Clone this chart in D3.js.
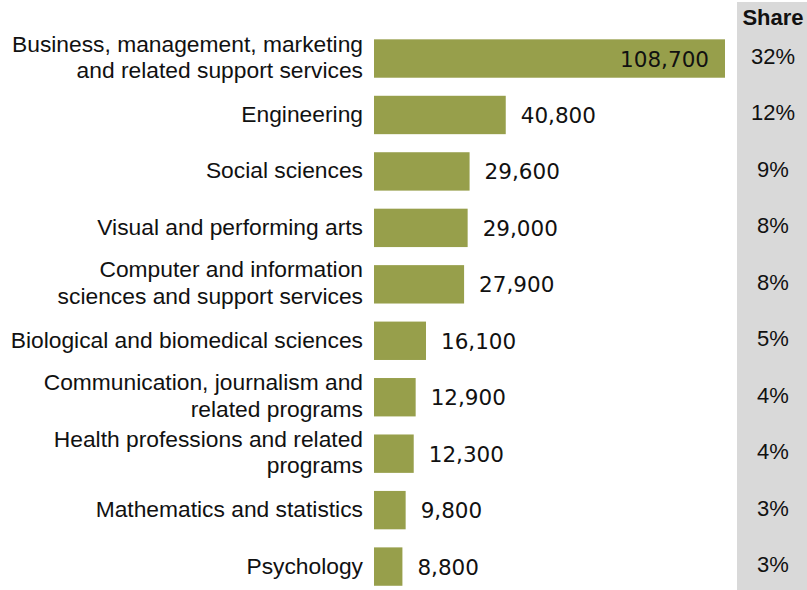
<!DOCTYPE html>
<html>
<head>
<meta charset="utf-8">
<script src="https://cdn.jsdelivr.net/npm/d3@7"></script>
<style>
  html, body { margin: 0; padding: 0; background: #fff; }
  svg { display: block; }
  text { font-family: "Liberation Sans", Arial, sans-serif; fill: #111; }
  text.val { font-family: "DejaVu Sans", sans-serif; }
</style>
</head>
<body>
<svg id="chart" width="807" height="590"></svg>
<script>
const categories = [
  ["Business, management, marketing", "and related support services"],
  ["Engineering"],
  ["Social sciences"],
  ["Visual and performing arts"],
  ["Computer and information", "sciences and support services"],
  ["Biological and biomedical sciences"],
  ["Communication, journalism and", "related programs"],
  ["Health professions and related", "programs"],
  ["Mathematics and statistics"],
  ["Psychology"]
];
const values = [108700, 40800, 29600, 29000, 27900, 16100, 12900, 12300, 9800, 8800];
const shares = ["32%", "12%", "9%", "8%", "8%", "5%", "4%", "4%", "3%", "3%"];
const shareHeader = "Share";

const svg = d3.select("#chart");
const ids = d3.range(values.length);

const x = d3.scaleLinear().domain([0, 108700]).range([374, 725]);
const y = d3.scaleBand().domain(ids).range([30.3, 594.8]).paddingInner(0.32).paddingOuter(0.16);
const fmt = d3.format(",");

// grey share column
svg.append("rect").attr("x", 737).attr("y", 2).attr("width", 70).attr("height", 588).attr("fill", "#d9d9d9");
svg.append("text").attr("x", 773).attr("y", 25).attr("text-anchor", "middle")
  .attr("font-size", 22).attr("font-weight", "bold").text(shareHeader);

// bars
svg.selectAll("rect.bar").data(ids).join("rect").attr("class", "bar")
  .attr("x", x(0)).attr("y", i => y(i))
  .attr("width", i => x(values[i]) - x(0)).attr("height", y.bandwidth())
  .attr("fill", "#979f4b");

// value labels
svg.selectAll("text.val").data(ids).join("text").attr("class", "val")
  .attr("font-size", 21.5)
  .attr("x", i => i === 0 ? x(values[i]) - 16 : x(values[i]) + 15)
  .attr("text-anchor", i => i === 0 ? "end" : "start")
  .attr("y", i => y(i) + y.bandwidth() / 2 + 8)
  .text(i => fmt(values[i]));

// category labels
const cat = svg.selectAll("text.cat").data(ids).join("text").attr("class", "cat")
  .attr("font-size", 22.8).attr("text-anchor", "end");
cat.each(function(i) {
  const lines = categories[i];
  const cy = y(i) + y.bandwidth() / 2;
  const t = d3.select(this);
  lines.forEach((ln, k) => {
    const off = lines.length === 1 ? 7 : (k === 0 ? -7 : 19.5);
    t.append("tspan").attr("x", 363).attr("y", cy + off).text(ln);
  });
});

// shares
svg.selectAll("text.share").data(ids).join("text").attr("class", "share")
  .attr("font-size", 22).attr("text-anchor", "middle")
  .attr("x", 773).attr("y", i => y(i) + y.bandwidth() / 2 + 5.5)
  .text(i => shares[i]);
</script>
</body>
</html>
